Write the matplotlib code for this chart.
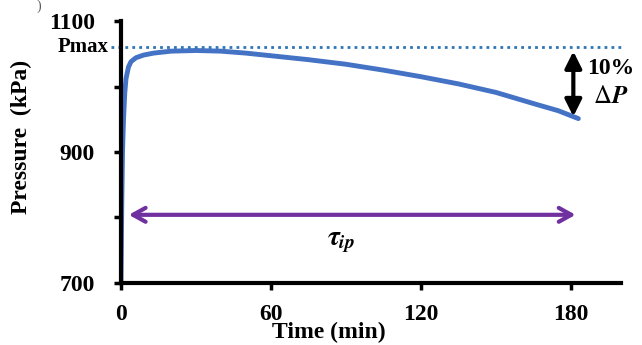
import matplotlib.pyplot as plt

# pressure curve
time_min = [0, 0.3, 0.6, 1, 1.5, 2, 3, 4, 6, 9, 13, 20, 30, 40, 50, 60, 75, 90, 105, 120, 135, 150, 165, 175, 183]
pressure = [700, 820, 900, 950, 990, 1012, 1030, 1038, 1044, 1048, 1051, 1054, 1055, 1054, 1051, 1047, 1041, 1034, 1025, 1015, 1004, 991, 974, 963, 951]
p_max = 1060
x_ticks = [0, 60, 120, 180]
y_ticks = [700, 800, 900, 1000, 1100]
y_labels = ["700", "", "900", "", "1100"]

plt.rcParams['font.family'] = ['Liberation Serif', 'DejaVu Serif']
plt.rcParams['mathtext.fontset'] = 'stix'

fig = plt.figure(figsize=(6.42, 3.45), dpi=100)
ax = fig.add_axes([0.1885, 0.18, 0.7785, 0.759])

ax.plot(time_min, pressure, color='#4472C4', linewidth=3.5, solid_capstyle='round')
ax.plot([-4, 200], [p_max, p_max], color='#2E75B6', linestyle=(0, (1, 1.5)), linewidth=2, clip_on=False)

ax.set_xlim(0, 200)
ax.set_ylim(700, 1100)
ax.set_xticks(x_ticks)
ax.set_xticklabels([str(v) for v in x_ticks])
ax.set_yticks(y_ticks)
ax.set_yticklabels(y_labels)
for s in ['top', 'right']:
    ax.spines[s].set_visible(False)
for s in ['left', 'bottom']:
    ax.spines[s].set_linewidth(3)
ax.tick_params(width=2.5, length=5, labelsize=17)
ax.tick_params(axis='y', pad=14)
ax.tick_params(axis='x', pad=10)
for lab in ax.get_xticklabels() + ax.get_yticklabels():
    lab.set_fontweight('bold')

fig.text(0.5125, 0.035, 'Time (min)', ha='center', va='center', fontsize=17, fontweight='bold')
fig.text(0.034, 0.603, 'Pressure  (kPa)', ha='center', va='center', rotation=90,
         fontsize=17, fontweight='bold')

ax.text(-5, p_max, 'Pmax', ha='right', va='center', fontsize=15, fontweight='bold')

# tau_ip arrow
ax.annotate('', xy=(183, 804), xytext=(2, 804),
            arrowprops=dict(arrowstyle='<->,head_length=0.9,head_width=0.5', color='#7030A0', lw=3))
ax.text(88, 762, r'$\boldsymbol{\tau}_{\boldsymbol{ip}}$', ha='center', va='center', fontsize=20)

# delta P arrow
ax.annotate('', xy=(181, 950), xytext=(181, 1058),
            arrowprops=dict(arrowstyle='<|-|>,head_length=1.0,head_width=0.5', color='black', lw=3))
ax.text(196, 1028, '10%', ha='center', va='center', fontsize=17, fontweight='bold')
ax.text(196, 984, r'$\Delta \boldsymbol{P}$', ha='center', va='center', fontsize=18)

fig.text(0.06, 1.0, ')', ha='center', va='top', fontsize=10, color='#555555')

fig.savefig('out.png', dpi=100)
